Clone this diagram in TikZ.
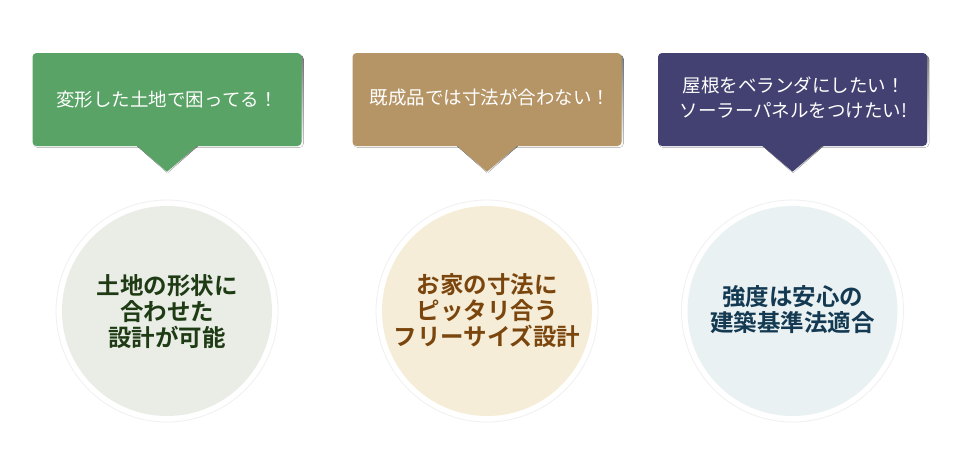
\documentclass[tikz,border=0pt]{standalone}
\usepackage{fontspec}
\setmainfont{Noto Sans CJK JP}[BoldFont={Noto Sans CJK JP Bold}]
\usetikzlibrary{calc}
\definecolor{bgreen}{HTML}{58A365}
\definecolor{btan}{HTML}{B59465}
\definecolor{bnavy}{HTML}{434171}
\definecolor{cgreen}{HTML}{E9EDE6}
\definecolor{ctan}{HTML}{F5EDD7}
\definecolor{cblue}{HTML}{EAF1F2}
\definecolor{tgreen}{HTML}{1E3B14}
\definecolor{ttan}{HTML}{7B460E}
\definecolor{tblue}{HTML}{133A52}
\definecolor{shade}{HTML}{D8D8D8}
\tikzset{
  callbox/.style={rectangle, rounded corners=4pt, minimum width=269pt, minimum height=93pt,
    inner sep=0pt, text=white, align=center, font=\fontsize{18.5}{25}\selectfont},
  ring/.style={circle, fill=white, draw=black!6, line width=0.8pt, minimum size=222pt, inner sep=0pt},
  disc/.style={circle, minimum size=210pt, inner sep=0pt, align=center,
    font=\bfseries\fontsize{23.5}{26}\selectfont},
}
\begin{document}
\begin{tikzpicture}[x=1pt,y=-1pt]
\useasboundingbox (0,0) rectangle (960,471);
\fill[white] (0,0) rectangle (960,471);

% callout shadows
\foreach \cx in {167, 487, 792.5}{
  \fill[shade] (\cx-133.5,55) [rounded corners=4pt] rectangle (\cx+136.5,147.5);
  \fill[shade] (\cx-30,146) -- (\cx+31,146) -- (\cx+0.5,173) -- cycle;
}
% callouts
\node[callbox, fill=bgreen] (b1) at (167,99.5) {};
\node[callbox, fill=btan] (b2) at (487,99.5) {};
\node[callbox, fill=bnavy] (b3) at (792.5,99.5) {};
\fill[bgreen] ($(b1.south)+(-30,-0.5)$) -- ($(b1.south)+(30,-0.5)$) -- ($(b1.south)+(0,25.5)$) -- cycle;
\fill[btan] ($(b2.south)+(-30,-0.5)$) -- ($(b2.south)+(30,-0.5)$) -- ($(b2.south)+(0,25.5)$) -- cycle;
\fill[bnavy] ($(b3.south)+(-30,-0.5)$) -- ($(b3.south)+(30,-0.5)$) -- ($(b3.south)+(0,25.5)$) -- cycle;

% callout texts
\node[callbox, minimum width=0pt, minimum height=0pt] (t1) at (b1.center) {変形した土地で困ってる！};
\node[callbox, minimum width=0pt, minimum height=0pt] (t2) at ($(b2.center)+(3,-2)$) {既成品では寸法が合わない！};
\node[callbox, minimum width=0pt, minimum height=0pt] (t3) at ($(b3.center)+(1,-2)$) {屋根をベランダにしたい！\\ソーラーパネルをつけたい!};

% circles
\node[ring] (r1) at (167,311) {};
\node[ring] (r2) at (487,311) {};
\node[ring] (r3) at (792.5,311) {};
\node[disc, fill=cgreen, text=tgreen] (c1) at (r1.center) {};
\node[disc, fill=ctan, text=ttan] (c2) at (r2.center) {};
\node[disc, fill=cblue, text=tblue] (c3) at (r3.center) {};
\node[disc, minimum size=0pt, text=tgreen] (d1) at ($(c1.center)+(0,1)$) {土地の形状に\\合わせた\\設計が可能};
\node[disc, minimum size=0pt, text=ttan] (d2) at (c2.center) {お家の寸法に\\ピッタリ合う\\フリーサイズ設計};
\node[disc, minimum size=0pt, text=tblue] (d3) at ($(c3.center)+(0,-1)$) {強度は安心の\\建築基準法適合};
\end{tikzpicture}
\end{document}
